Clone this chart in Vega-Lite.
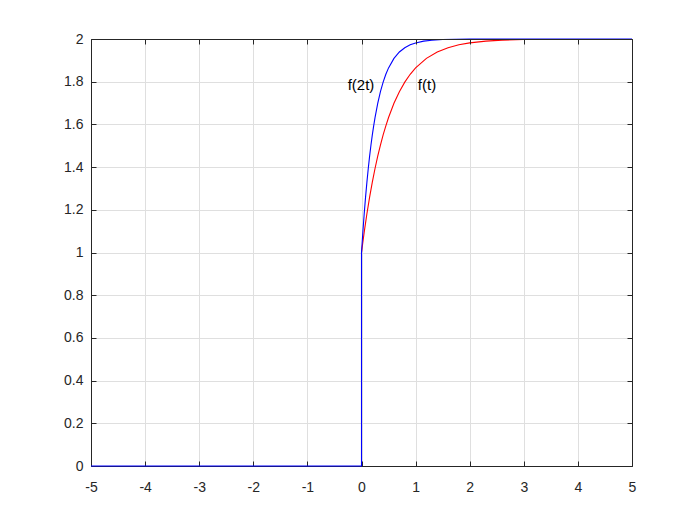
{
  "$schema": "https://vega.github.io/schema/vega-lite/v6.json",
  "width": 541,
  "height": 427,
  "autosize": {"type": "none"},
  "padding": {"left": 91, "top": 39, "right": 68, "bottom": 59},
  "background": "white",
  "config": {
    "view": {"stroke": null},
    "axis": {
      "labelFont": "Liberation Sans",
      "labelFontSize": 14,
      "labelColor": "#262626",
      "labelFlush": false,
      "labelOverlap": false,
      "domainColor": "#262626",
      "tickColor": "#262626",
      "gridColor": "#dfdfdf",
      "gridOpacity": 1,
      "title": null
    }
  },
  "datasets": {
    "curves": [
      {"s": "f(t)", "i": 2, "t": 0, "y": 1},
      {"s": "f(t)", "i": 3, "t": 0.05, "y": 1.0952},
      {"s": "f(t)", "i": 4, "t": 0.1, "y": 1.1813},
      {"s": "f(t)", "i": 5, "t": 0.15, "y": 1.2592},
      {"s": "f(t)", "i": 6, "t": 0.2, "y": 1.3297},
      {"s": "f(t)", "i": 7, "t": 0.25, "y": 1.3935},
      {"s": "f(t)", "i": 8, "t": 0.3, "y": 1.4512},
      {"s": "f(t)", "i": 9, "t": 0.35, "y": 1.5034},
      {"s": "f(t)", "i": 10, "t": 0.4, "y": 1.5507},
      {"s": "f(t)", "i": 11, "t": 0.45, "y": 1.5934},
      {"s": "f(t)", "i": 12, "t": 0.5, "y": 1.6321},
      {"s": "f(t)", "i": 13, "t": 0.6, "y": 1.6988},
      {"s": "f(t)", "i": 14, "t": 0.7, "y": 1.7534},
      {"s": "f(t)", "i": 15, "t": 0.8, "y": 1.7981},
      {"s": "f(t)", "i": 16, "t": 0.9, "y": 1.8347},
      {"s": "f(t)", "i": 17, "t": 1.0, "y": 1.8647},
      {"s": "f(t)", "i": 18, "t": 1.2, "y": 1.9093},
      {"s": "f(t)", "i": 19, "t": 1.4, "y": 1.9392},
      {"s": "f(t)", "i": 20, "t": 1.6, "y": 1.9592},
      {"s": "f(t)", "i": 21, "t": 1.8, "y": 1.9727},
      {"s": "f(t)", "i": 22, "t": 2.0, "y": 1.9817},
      {"s": "f(t)", "i": 23, "t": 2.3, "y": 1.9899},
      {"s": "f(t)", "i": 24, "t": 2.6, "y": 1.9945},
      {"s": "f(t)", "i": 25, "t": 3.0, "y": 1.9975},
      {"s": "f(t)", "i": 26, "t": 3.5, "y": 1.9991},
      {"s": "f(t)", "i": 27, "t": 4.0, "y": 1.9997},
      {"s": "f(t)", "i": 28, "t": 5.0, "y": 2.0},
      {"s": "f(2t)", "i": 0, "t": -5, "y": 0},
      {"s": "f(2t)", "i": 1, "t": 0, "y": 0},
      {"s": "f(2t)", "i": 2, "t": 0, "y": 1},
      {"s": "f(2t)", "i": 3, "t": 0.025, "y": 1.0952},
      {"s": "f(2t)", "i": 4, "t": 0.05, "y": 1.1813},
      {"s": "f(2t)", "i": 5, "t": 0.075, "y": 1.2592},
      {"s": "f(2t)", "i": 6, "t": 0.1, "y": 1.3297},
      {"s": "f(2t)", "i": 7, "t": 0.125, "y": 1.3935},
      {"s": "f(2t)", "i": 8, "t": 0.15, "y": 1.4512},
      {"s": "f(2t)", "i": 9, "t": 0.175, "y": 1.5034},
      {"s": "f(2t)", "i": 10, "t": 0.2, "y": 1.5507},
      {"s": "f(2t)", "i": 11, "t": 0.225, "y": 1.5934},
      {"s": "f(2t)", "i": 12, "t": 0.25, "y": 1.6321},
      {"s": "f(2t)", "i": 13, "t": 0.3, "y": 1.6988},
      {"s": "f(2t)", "i": 14, "t": 0.35, "y": 1.7534},
      {"s": "f(2t)", "i": 15, "t": 0.4, "y": 1.7981},
      {"s": "f(2t)", "i": 16, "t": 0.45, "y": 1.8347},
      {"s": "f(2t)", "i": 17, "t": 0.5, "y": 1.8647},
      {"s": "f(2t)", "i": 18, "t": 0.6, "y": 1.9093},
      {"s": "f(2t)", "i": 19, "t": 0.7, "y": 1.9392},
      {"s": "f(2t)", "i": 20, "t": 0.8, "y": 1.9592},
      {"s": "f(2t)", "i": 21, "t": 0.9, "y": 1.9727},
      {"s": "f(2t)", "i": 22, "t": 1.0, "y": 1.9817},
      {"s": "f(2t)", "i": 23, "t": 1.15, "y": 1.9899},
      {"s": "f(2t)", "i": 24, "t": 1.3, "y": 1.9945},
      {"s": "f(2t)", "i": 25, "t": 1.5, "y": 1.9975},
      {"s": "f(2t)", "i": 26, "t": 1.75, "y": 1.9991},
      {"s": "f(2t)", "i": 27, "t": 2.0, "y": 1.9997},
      {"s": "f(2t)", "i": 28, "t": 5.0, "y": 2.0}
    ],
    "labels": [
      {"label": "f(2t)", "t": -0.01, "y": 1.785},
      {"label": "f(t)", "t": 1.21, "y": 1.785}
    ]
  },
  "resolve": {"axis": {"x": "independent", "y": "independent"}},
  "layer": [
    {
      "data": {"name": "curves"},
      "transform": [{"filter": "datum.s === 'f(t)'"}],
      "mark": {"type": "line", "color": "#ff0000", "strokeWidth": 1.1, "clip": true},
      "encoding": {
        "x": {
          "field": "t", "type": "quantitative",
          "scale": {"domain": [-5, 5], "nice": false},
          "axis": {"values": [-5, -4, -3, -2, -1, 0, 1, 2, 3, 4, 5], "labelExpr": "datum.value + ''", "tickSize": -5, "labelPadding": 19, "grid": true, "zindex": 0}
        },
        "y": {
          "field": "y", "type": "quantitative",
          "scale": {"domain": [0, 2], "nice": false, "zero": false},
          "axis": {"values": [0, 0.2, 0.4, 0.6, 0.8, 1, 1.2, 1.4, 1.6, 1.8, 2], "labelExpr": "datum.value + ''", "tickSize": -5, "labelPadding": 13, "grid": true, "zindex": 0}
        },
        "order": {"field": "i", "type": "quantitative"}
      }
    },
    {
      "data": {"name": "curves"},
      "transform": [{"filter": "datum.s === 'f(2t)'"}],
      "mark": {"type": "line", "color": "#0000ff", "strokeWidth": 1.1, "clip": false},
      "encoding": {
        "x": {
          "field": "t", "type": "quantitative",
          "axis": {"orient": "top", "values": [-5, -4, -3, -2, -1, 0, 1, 2, 3, 4, 5], "labels": false, "tickSize": -5, "grid": false, "zindex": 1}
        },
        "y": {
          "field": "y", "type": "quantitative",
          "axis": {"orient": "right", "values": [0, 0.2, 0.4, 0.6, 0.8, 1, 1.2, 1.4, 1.6, 1.8, 2], "labels": false, "tickSize": -5, "grid": false, "zindex": 1}
        },
        "order": {"field": "i", "type": "quantitative"}
      }
    },
    {
      "data": {"name": "labels"},
      "mark": {"type": "text", "font": "Liberation Sans", "fontSize": 15, "color": "#000000", "align": "center", "baseline": "middle"},
      "encoding": {
        "x": {"field": "t", "type": "quantitative", "axis": null},
        "y": {"field": "y", "type": "quantitative", "axis": null},
        "text": {"field": "label"}
      }
    }
  ]
}
